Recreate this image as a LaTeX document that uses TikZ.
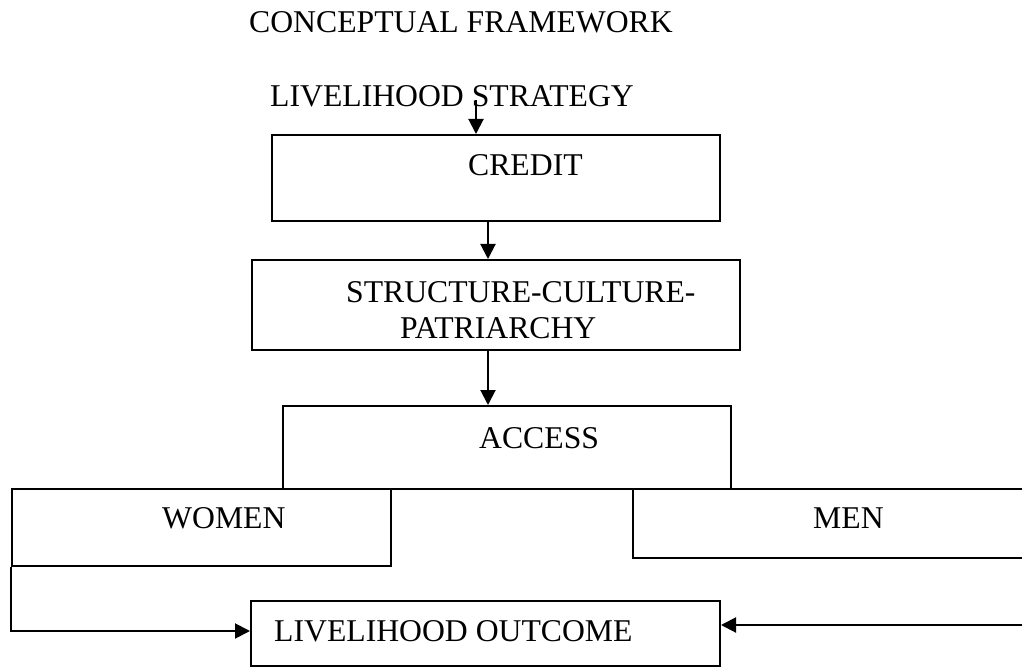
\documentclass[tikz,border=0pt]{standalone}
\usepackage{fontspec}
\setmainfont{Liberation Serif}
\usetikzlibrary{arrows.meta,calc}
\begin{document}
\begin{tikzpicture}[x=1pt,y=-1pt,
  box/.style={draw,line width=2pt,rectangle,inner sep=0pt},
  lbl/.style={inner sep=0pt,anchor=base west,font=\fontsize{31.7}{36}\selectfont},
  arr/.style={line width=2pt,-{Triangle[length=15pt,width=15pt]}}]
\useasboundingbox (0,0) rectangle (1022,668);
% boxes
\node[box,minimum width=448pt,minimum height=86pt] (credit) at (496,178) {};
\node[box,minimum width=488pt,minimum height=90pt] (scp) at (496,305) {};
\node[box,minimum width=448pt,minimum height=83pt] (access) at (507,447.5) {};
\node[box,minimum width=379pt,minimum height=77pt] (women) at (201.5,527.5) {};
\node[box,minimum width=405pt,minimum height=69pt] (men) at (835.5,523.5) {};
\node[box,minimum width=469pt,minimum height=65pt] (lo) at (485.5,633.5) {};
% texts
\node[lbl] (title) at (249,33) {CONCEPTUAL FRAMEWORK};
\node[lbl] (strat) at (270,107) {LIVELIHOOD STRATEGY};
\node[lbl] (tcredit) at (468,176) {CREDIT};
\node[lbl] (tscp1) at (346,302) {STRUCTURE-CULTURE-};
\node[lbl] (tscp2) at (400,338) {PATRIARCHY};
\node[lbl] (taccess) at (479,448) {ACCESS};
\node[lbl] (twomen) at (162,528) {WOMEN};
\node[lbl] (tmen) at (813,528) {MEN};
\node[lbl] (tlo) at (274,641) {LIVELIHOOD OUTCOME};
% connectors
\coordinate (a0) at (476,100);
\draw[arr] (a0) -- (a0 |- credit.north);
\draw[arr] ([xshift=-8pt]credit.south) -- ([xshift=-8pt]credit.south |- scp.north);
\draw[arr] ([xshift=-8pt]scp.south) -- ([xshift=-8pt]scp.south |- access.north);
\draw[arr] (women.south west) |- ([yshift=2.5pt]lo.west);
\coordinate (rin) at (1024,625);
\draw[arr] (rin) -- (rin -| lo.east);
\end{tikzpicture}
\end{document}
